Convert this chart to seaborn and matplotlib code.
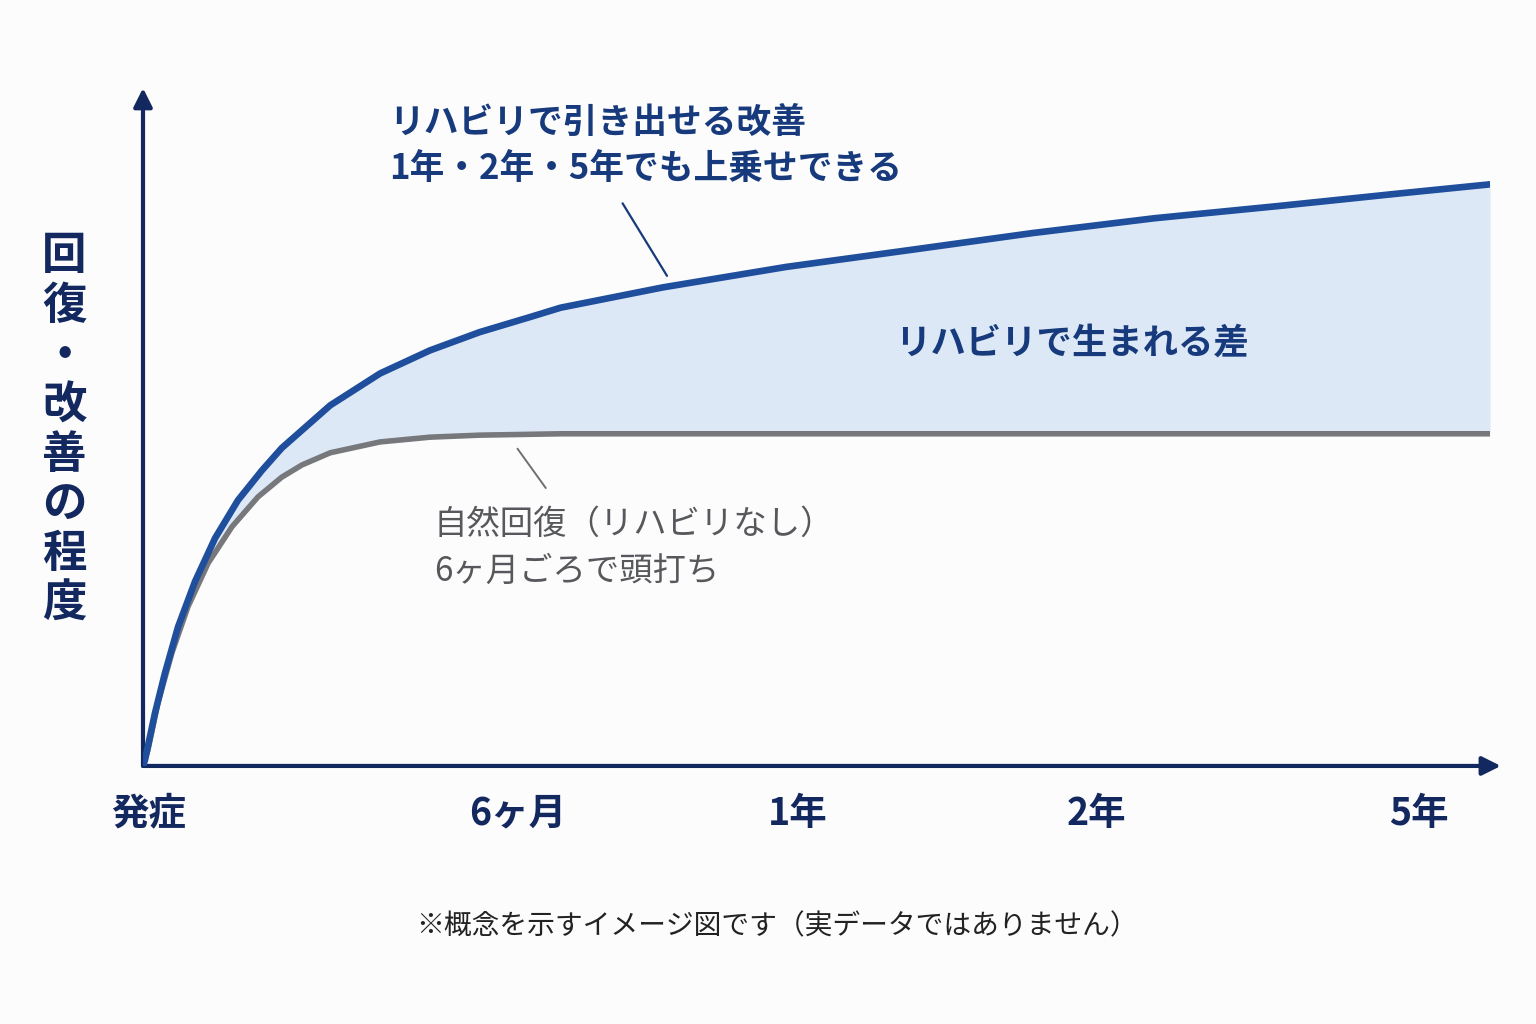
import numpy as np
import pandas as pd
import matplotlib.pyplot as plt
import seaborn as sns

# curve values (x: 0 = onset, 100 = right end; y: 0..100 recovery level)
rehab_x = [0, 0.15, 0.89, 1.63, 2.60, 3.86, 5.35, 7.05, 8.83, 10.3, 13.9, 17.6, 21.3,
           25.0, 28.7, 31.0, 38.6, 47.7, 56.9, 66.0, 75.1, 84.3, 93.5, 100]
rehab_y = [0, 0.9, 7.8, 13.7, 20.5, 27.2, 33.6, 39.2, 43.6, 46.9, 53.2, 57.9, 61.3,
           64.0, 66.2, 67.6, 70.6, 73.6, 76.1, 78.6, 80.8, 82.6, 84.5, 85.8]
natural_x = [0, 0.37, 1.11, 2.15, 3.34, 4.83, 6.61, 8.54, 10.3, 11.8, 13.9, 17.6,
             21.3, 25.0, 31.0, 50.0, 75.0, 100]
natural_y = [0, 2.4, 9.3, 16.7, 23.5, 29.9, 35.3, 39.7, 42.6, 44.4, 46.2, 47.8,
             48.5, 48.8, 49.0, 49.0, 49.0, 49.0]

tick_labels = ["発症", "6ヶ月", "1年", "2年", "5年"]
tick_pos = [0.4, 27.8, 48.6, 70.8, 94.7]

navy = "#12285e"
blue = "#1f4f9c"
gray = "#77787b"
fill = "#dde8f7"

sns.set_theme(style="white")
plt.rcParams['font.family'] = ['Noto Sans CJK JP', 'DejaVu Sans']

rehab = pd.DataFrame({"x": rehab_x, "y": rehab_y})
natural = pd.DataFrame({"x": natural_x, "y": natural_y})

fig = plt.figure(figsize=(15.36, 10.24), dpi=100)
fig.patch.set_facecolor("#fcfcfd")
ax = fig.add_axes([0.0931, 0.252, 0.877, 0.662])
ax.set_facecolor("#fcfcfd")

# shaded gap between the two curves
grid = np.union1d(rehab_x, natural_x)
top = np.interp(grid, rehab_x, rehab_y)
bot = np.interp(grid, natural_x, natural_y)
ax.fill_between(grid, bot, top, color=fill, lw=0, zorder=1)

sns.lineplot(data=natural, x="x", y="y", ax=ax, color=gray, lw=4.0,
             solid_capstyle="round", solid_joinstyle="round", zorder=3)
sns.lineplot(data=rehab, x="x", y="y", ax=ax, color=blue, lw=4.8,
             solid_capstyle="round", solid_joinstyle="round", zorder=4)

ax.set_xlim(0, 100)
ax.set_ylim(0, 100)
for s in ax.spines.values():
    s.set_visible(False)
ax.set_xlabel("")
ax.set_ylabel("")
ax.set_yticks([])
ax.set_xticks(tick_pos)
ax.set_xticklabels(tick_labels, fontsize=27, fontweight="bold", color=navy)
ax.tick_params(axis="x", length=0, pad=20)

# axes with arrows
ax.annotate("", xy=(1.008, 0), xytext=(0, 0), xycoords="axes fraction",
            arrowprops=dict(arrowstyle="-|>", color=navy, lw=3, mutation_scale=28,
                            shrinkA=0, shrinkB=0), annotation_clip=False)
ax.annotate("", xy=(0, 1.0), xytext=(0, 0), xycoords="axes fraction",
            arrowprops=dict(arrowstyle="-|>", color=navy, lw=3, mutation_scale=28,
                            shrinkA=0, shrinkB=0), annotation_clip=False)

# annotations
ax.text(18.3, 91.5, "リハビリで引き出せる改善\n1年・2年・5年でも上乗せできる",
        fontsize=25, fontweight="bold", color="#173a7c", ha="left", va="center",
        linespacing=1.4)
ax.plot([35.6, 38.9], [83.0, 72.3], color="#173a7c", lw=1.6, zorder=5)

ax.text(69.0, 62.4, "リハビリで生まれる差", fontsize=25.5, fontweight="bold",
        color="#173a7c", ha="center", va="center")

ax.text(21.6, 32.2, "自然回復（リハビリなし）\n6ヶ月ごろで頭打ち",
        fontsize=24, color="#57585b", ha="left", va="center", linespacing=1.45)
ax.plot([27.8, 29.9], [46.8, 41.0], color="#6f7073", lw=1.4, zorder=5)

# vertical y label
fig.text(0.042, 0.58, "\n".join("回復・改善の程度"), fontsize=32, fontweight="bold",
         color=navy, ha="center", va="center", linespacing=1.1)

fig.text(0.506, 0.095, "※概念を示すイメージ図です（実データではありません）",
         fontsize=20, color="#222222", ha="center", va="center")

fig.savefig("out.png", dpi=100, facecolor=fig.get_facecolor())
